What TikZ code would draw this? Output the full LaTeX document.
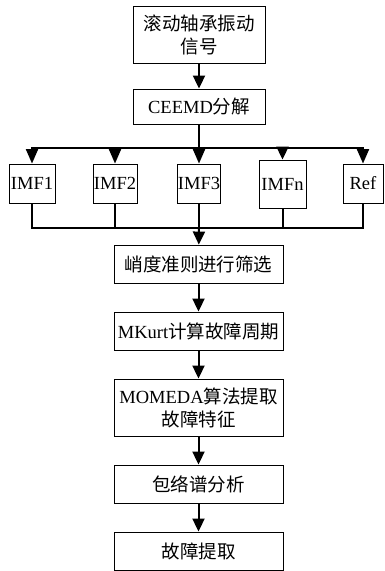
\documentclass[tikz,border=0pt]{standalone}
\usepackage{fontspec}
\setmainfont{Liberation Serif}
\newfontfamily\cjk{Noto Sans CJK SC}
\newcommand\zh[1]{{\cjk #1}}
\usetikzlibrary{arrows.meta}
\begin{document}
\begin{tikzpicture}[x=1pt,y=-1pt,
  box/.style={draw,line width=0.9pt,inner sep=0pt,align=center,
    font=\fontsize{18.5}{23}\selectfont},
  arr/.style={line width=2pt,-{Triangle[length=13pt,width=12pt]}},
  rowarr/.style={line width=2pt,-{Triangle[length=14.5pt,width=12pt]}},
  ln/.style={line width=2pt},
  bus/.style={line width=2pt,line cap=rect}]
\useasboundingbox (0,0) rectangle (385,571);
% main column
\node[box,minimum width=132pt,minimum height=57pt] (sig) at (199,34.5) {\zh{滚动轴承振动}\\\zh{信号}};
\node[box,minimum width=132pt,minimum height=35pt] (ceemd) at (199,106.5) {CEEMD\zh{分解}};
% IMF row
\node[box,minimum width=46pt,minimum height=39pt] (imf1) at (32,183.5) {IMF1};
\node[box,minimum width=44pt,minimum height=39pt] (imf2) at (115,183.5) {IMF2};
\node[box,minimum width=43pt,minimum height=39pt] (imf3) at (199,183.5) {IMF3};
\node[box,minimum width=47pt,minimum height=48pt] (imfn) at (282.5,184) {\raisebox{-6pt}{IMFn}};
\node[box,minimum width=40pt,minimum height=39pt] (ref) at (363,183.5) {Ref};
% lower column
\node[box,minimum width=169pt,minimum height=38pt] (kurt) at (198.5,264) {\zh{峭度准则进行筛选}};
\node[box,minimum width=169pt,minimum height=38pt] (mkurt) at (198.5,331) {MKurt\zh{计算故障周期}};
\node[box,minimum width=169pt,minimum height=57pt] (momeda) at (198.5,407.5) {MOMEDA\zh{算法提取}\\\zh{故障特征}};
\node[box,minimum width=169pt,minimum height=38pt] (env) at (198.5,484) {\zh{包络谱分析}};
\node[box,minimum width=169pt,minimum height=38pt] (fault) at (198.5,551) {\zh{故障提取}};
% bus coordinates
\coordinate (c1) at (32,148);
\coordinate (c2) at (115,148);
\coordinate (c3) at (199,148);
\coordinate (c4) at (282.5,148);
\coordinate (c5) at (363,148);
\coordinate (d1) at (32,228);
\coordinate (d2) at (115,228);
\coordinate (d3) at (199,228);
\coordinate (d4) at (282.5,228);
\coordinate (d5) at (363,228);
% connectors
\draw[arr] (sig) -- (ceemd);
\draw[ln] (ceemd) -- (c3);
\draw[bus] (c1) -- (c5);
\draw[rowarr] (c1) -- (imf1);
\draw[rowarr] (c2) -- (imf2);
\draw[rowarr] (c3) -- (imf3);
\draw[arr] (c4) -- (imfn);
\draw[rowarr] (c5) -- (ref);
\draw[ln] (imf1) -- (d1);
\draw[ln] (imf2) -- (d2);
\draw[ln] (imf3) -- (d3);
\draw[ln] (imfn) -- (d4);
\draw[ln] (ref) -- (d5);
\draw[bus] (d1) -- (d5);
\draw[arr] (d3) -- (kurt);
\draw[arr] (kurt) -- (mkurt);
\draw[arr] (mkurt) -- (momeda);
\draw[arr] (momeda) -- (env);
\draw[arr] (env) -- (fault);
\end{tikzpicture}
\end{document}
